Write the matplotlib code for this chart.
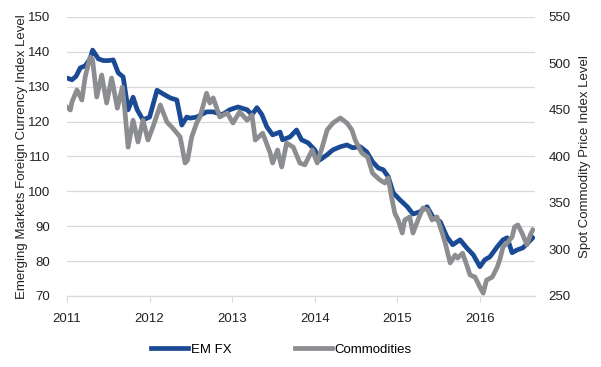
import matplotlib
matplotlib.use("Agg")
import matplotlib.pyplot as plt

plt.rcParams['font.family'] = ['Liberation Sans', 'DejaVu Sans']

# EM FX index (left axis), dates as decimal years
fx_t = [2011.00, 2011.06, 2011.11, 2011.16, 2011.22, 2011.28, 2011.31, 2011.38,
        2011.44, 2011.50, 2011.56, 2011.62, 2011.68, 2011.74, 2011.80, 2011.85,
        2011.92, 2012.00, 2012.09, 2012.16, 2012.25, 2012.33, 2012.39, 2012.45,
        2012.49, 2012.57, 2012.69, 2012.77, 2012.88, 2012.97, 2013.07, 2013.18,
        2013.24, 2013.30, 2013.36, 2013.42, 2013.49, 2013.58, 2013.61, 2013.70,
        2013.78, 2013.84, 2013.92, 2014.00, 2014.06, 2014.15, 2014.22, 2014.31,
        2014.39, 2014.46, 2014.55, 2014.63, 2014.70, 2014.77, 2014.83, 2014.89,
        2014.95, 2015.03, 2015.12, 2015.19, 2015.27, 2015.36, 2015.43, 2015.52,
        2015.60, 2015.67, 2015.76, 2015.84, 2015.92, 2016.00, 2016.06, 2016.12,
        2016.21, 2016.28, 2016.33, 2016.39, 2016.45, 2016.52, 2016.58, 2016.64]
fx_val = [132.5, 132.0, 133.0, 135.4, 136.0, 138.0, 140.5, 138.0,
          137.5, 137.5, 137.7, 134.0, 132.8, 123.4, 127.0, 123.4,
          120.5, 121.3, 129.0, 128.0, 126.8, 126.2, 119.0, 121.3,
          121.0, 121.3, 122.8, 122.8, 122.0, 123.4, 124.2, 123.4,
          122.0, 124.0, 122.0, 118.5, 116.2, 117.0, 114.8, 115.6,
          117.6, 114.8, 113.9, 111.9, 109.0, 110.5, 111.9, 112.8,
          113.3, 112.5, 112.8, 111.3, 108.5, 106.7, 106.2, 104.2,
          99.6, 97.6, 95.6, 93.5, 94.1, 95.6, 92.7, 91.3,
          87.0, 84.7, 86.1, 83.8, 81.8, 78.4, 80.4, 81.2,
          84.1, 86.1, 86.7, 82.4, 83.2, 83.8, 85.2, 86.7]

# Spot commodity price index (right axis)
cm_t = [2011.00, 2011.04, 2011.06, 2011.12, 2011.18, 2011.22, 2011.28, 2011.31,
        2011.36, 2011.42, 2011.48, 2011.54, 2011.61, 2011.67, 2011.70, 2011.74,
        2011.80, 2011.86, 2011.92, 2011.98, 2012.04, 2012.13, 2012.21, 2012.28,
        2012.37, 2012.43, 2012.46, 2012.51, 2012.57, 2012.61, 2012.69, 2012.73,
        2012.77, 2012.85, 2012.94, 2013.01, 2013.09, 2013.18, 2013.24, 2013.28,
        2013.37, 2013.46, 2013.49, 2013.55, 2013.60, 2013.66, 2013.74, 2013.82,
        2013.88, 2013.97, 2014.03, 2014.09, 2014.15, 2014.22, 2014.31, 2014.39,
        2014.45, 2014.49, 2014.57, 2014.64, 2014.70, 2014.79, 2014.85, 2014.89,
        2014.93, 2014.97, 2015.01, 2015.06, 2015.09, 2015.15, 2015.19, 2015.25,
        2015.31, 2015.37, 2015.42, 2015.48, 2015.54, 2015.58, 2015.64, 2015.70,
        2015.73, 2015.79, 2015.85, 2015.88, 2015.94, 2016.00, 2016.04, 2016.08,
        2016.15, 2016.21, 2016.24, 2016.28, 2016.33, 2016.39, 2016.42, 2016.46,
        2016.51, 2016.57, 2016.61, 2016.64]
cm_val = [453, 450, 458.6, 471.5, 460.7, 485.5, 507, 503.8,
          464, 487.6, 457.5, 484.4, 452, 474.7, 450, 410,
          439, 415.6, 439, 417.7, 431.7, 455.4, 437, 430.6,
          421, 393, 396, 421, 436, 442.5, 468, 457.5,
          463, 442.5, 446.8, 436, 448, 439, 444.6, 417.7,
          425, 403.8, 393, 407, 388.7, 414.5, 410, 393,
          391, 407, 393, 410, 428.5, 436, 441.4, 436,
          428.5, 417.7, 403.8, 399.5, 382, 374.7, 371.5, 377,
          356.4, 339, 331.7, 317.7, 331.7, 335, 317.7, 331.7,
          344.6, 342.5, 331.7, 335, 318.8, 307, 285.5, 294,
          290.8, 296, 281, 272.6, 270.4, 259.6, 253, 267,
          270.4, 281, 288.7, 302.7, 307, 313.5, 324.2, 326.4,
          317.7, 305, 315.6, 321]

years = [2011, 2012, 2013, 2014, 2015, 2016]

fig = plt.figure(figsize=(6.01, 3.67), dpi=100)
ax = fig.add_axes([0.1115, 0.1935, 0.7785, 0.7602])
ax2 = ax.twinx()

l1, = ax.plot(fx_t, fx_val, color='#1b4a94', lw=3.4, label='EM FX',
              solid_joinstyle='round')
l2, = ax2.plot(cm_t, cm_val, color='#8b8d90', lw=3.4, label='Commodities',
               solid_joinstyle='round')

ax.set_xlim(2011, 2016.666)
ax.set_ylim(70, 150)
ax2.set_ylim(250, 550)
ax.set_yticks(range(70, 151, 10))
ax2.set_yticks(range(250, 551, 50))
ax.set_xticks(years)
ax.set_xticklabels([str(y) for y in years])

ax.grid(axis='y', color='#d9d9d9', lw=0.9)
ax.set_axisbelow(True)
for a in (ax, ax2):
    for s in ('top', 'left', 'right'):
        a.spines[s].set_visible(False)
    a.spines['bottom'].set_color('#d9d9d9')
    a.tick_params(labelsize=9.5, colors='#222222')
ax.tick_params(axis='y', length=0, pad=12)
ax2.tick_params(axis='y', length=0, pad=10)
ax.tick_params(axis='x', length=4, color='#d9d9d9', pad=8)

ax.set_ylabel('Emerging Markets Foreign Currency Index Level', fontsize=9.5,
              color='#222222', labelpad=0)
ax2.set_ylabel('Spot Commodity Price Index Level', fontsize=9.5,
               color='#222222', labelpad=6)

fig.legend(handles=[l1, l2], loc='center', bbox_to_anchor=(0.468, 0.047),
           ncol=2, frameon=False, fontsize=9.5, handlelength=2.8,
           handletextpad=0.2, columnspacing=4.8)

fig.savefig('out.png', dpi=100)
